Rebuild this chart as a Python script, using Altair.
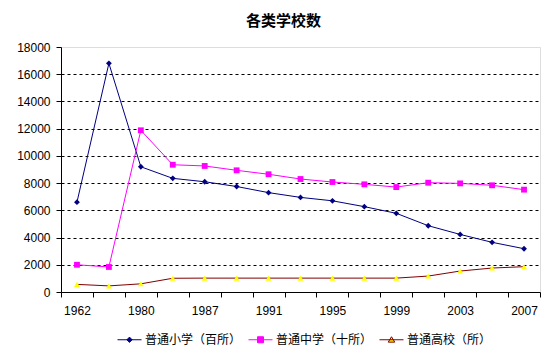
import altair as alt
import pandas as pd

# ---- data ----
years = ["1962", "1965", "1980", "1985", "1987", "1989", "1991", "1993",
         "1995", "1997", "1999", "2001", "2003", "2005", "2007"]
shown_years = ["1962", "1980", "1987", "1991", "1995", "1999", "2003", "2007"]
series_names = ["普通小学（百所）", "普通中学（十所）", "普通高校（所）"]
primary = [6600, 16800, 9200, 8350, 8100, 7750, 7300, 6950, 6700, 6270, 5780, 4870, 4230, 3650, 3180]
middle = [2000, 1840, 11880, 9350, 9260, 8940, 8650, 8300, 8080, 7910, 7710, 8030, 7980, 7840, 7520]
higher = [560, 450, 600, 1010, 1020, 1020, 1020, 1020, 1020, 1020, 1020, 1170, 1540, 1760, 1860]
y_ticks = [0, 2000, 4000, 6000, 8000, 10000, 12000, 14000, 16000, 18000]

# ---- styles ----
line_colors = ["#000080", "#FF00FF", "#800000"]
marker_colors = ["#000080", "#FF00FF", "#FFFF00"]
marker_shapes = ["diamond", "square", "triangle-up"]
legend_paths = [
    "M-1,0L1,0M0,-0.22L0.22,0L0,0.22L-0.22,0Z",
    "M-1,0L1,0M-0.25,-0.25L0.25,-0.25L0.25,0.25L-0.25,0.25Z",
    "M-1,0L1,0M0,-0.25L0.27,0.2L-0.27,0.2Z",
]

rows = []
for name, vals in zip(series_names, [primary, middle, higher]):
    for y, v in zip(years, vals):
        rows.append({"series": name, "year": y, "value": v})
df = pd.DataFrame(rows)

def js_list(items):
    return "[" + ",".join("'" + s + "'" for s in items) + "]"

x_enc = alt.X(
    "year:O", sort=years,
    scale=alt.Scale(type="band", paddingInner=0, paddingOuter=0),
    axis=alt.Axis(
        title=None, labelAngle=0,
        labelExpr="indexof(" + js_list(shown_years) + ", datum.label) >= 0 ? datum.label : ''",
        tickBand="extent", tickSize=5, tickColor="black", domainColor="black",
        labelFont="Liberation Sans", labelFontSize=12, labelColor="black",
        labelPadding=8, grid=False,
    ),
)
y_enc = alt.Y(
    "value:Q",
    scale=alt.Scale(domain=[0, 18000], nice=False),
    axis=alt.Axis(
        title=None, values=y_ticks, format="d",
        tickSize=5, tickColor="black", domainColor="black",
        labelFont="Liberation Sans", labelFontSize=12, labelColor="black",
        labelPadding=6,
        grid=True, gridColor="black", gridDash=[3, 3], gridWidth=1,
        gridOpacity=alt.condition("datum.value == 18000 || datum.value == 0", alt.value(0), alt.value(1)),
    ),
)

lines = alt.Chart(df).mark_line(strokeWidth=1).encode(
    x=x_enc, y=y_enc,
    stroke=alt.Stroke("series:N", scale=alt.Scale(domain=series_names, range=line_colors), legend=None),
)

points = alt.Chart(df).mark_point(filled=True, opacity=1, size=34).encode(
    x=x_enc, y=y_enc,
    fill=alt.Fill("series:N", scale=alt.Scale(domain=series_names, range=marker_colors), legend=None),
    shape=alt.Shape("series:N", scale=alt.Scale(domain=series_names, range=marker_shapes), legend=None),
)

legend = alt.Legend(
    title=None, orient="none", direction="horizontal", legendX=56, legendY=280,
    labelFont="Noto Sans CJK SC", labelFontSize=12, labelColor="black",
    symbolSize=576, symbolStrokeWidth=1, labelOffset=3, columnPadding=4,
)

legend_layer = alt.Chart(df).transform_filter("false").mark_point(filled=True, opacity=1, strokeWidth=1).encode(
    x=x_enc, y=y_enc,
    fill=alt.Fill("series:N", scale=alt.Scale(domain=series_names, range=marker_colors), legend=legend),
    stroke=alt.Stroke("series:N", scale=alt.Scale(domain=series_names, range=line_colors), legend=legend),
    shape=alt.Shape("series:N", scale=alt.Scale(domain=series_names, range=legend_paths), legend=legend),
)

chart = alt.layer(lines, points, legend_layer).resolve_scale(
    fill="independent", stroke="independent", shape="independent"
).properties(
    width=479, height=245,
    title=alt.TitleParams("各类学校数", font="Noto Sans CJK SC", fontSize=15,
                          fontWeight="bold", anchor="middle", offset=12, dx=-17, color="black"),
    autosize=alt.AutoSizeParams(type="none"),
    padding={"left": 61, "top": 47, "right": 14, "bottom": 62},
).configure_view(stroke="#808080", strokeWidth=1).configure(background="white")

chart.save("out.html", embed_options={"renderer": "svg", "actions": False})
